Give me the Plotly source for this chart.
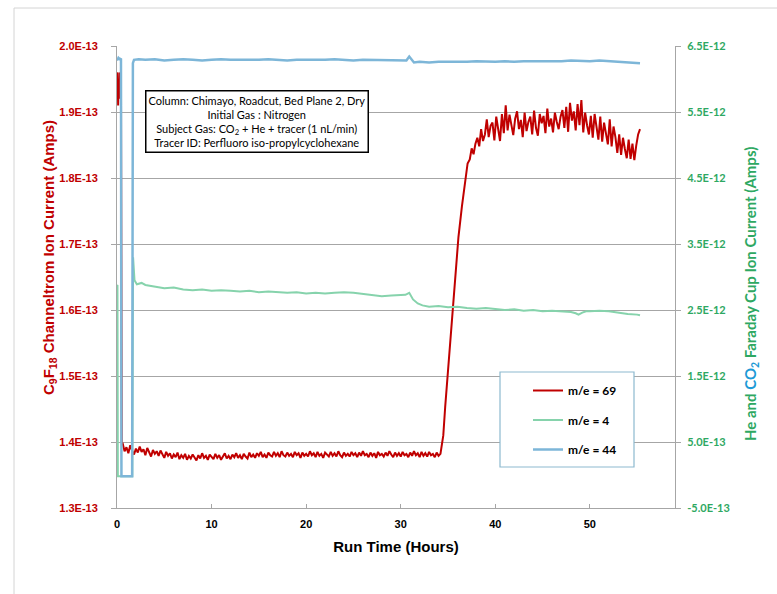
import plotly.graph_objects as go

# ---------------- DATA ----------------
S13 = 1e-13   # left-axis values are given in units of 1E-13 A
S12 = 1e-12   # right-axis values are given in units of 1E-12 A

x_tick_vals = [0, 10, 20, 30, 40, 50]
x_tick_text = ["0", "10", "20", "30", "40", "50"]

left_tick_vals = [1.3e-13, 1.4e-13, 1.5e-13, 1.6e-13, 1.7e-13, 1.8e-13, 1.9e-13, 2.0e-13]
left_tick_text = ["1.3E-13", "1.4E-13", "1.5E-13", "1.6E-13", "1.7E-13", "1.8E-13", "1.9E-13", "2.0E-13"]

right_tick_vals = [-0.5e-12, 0.5e-12, 1.5e-12, 2.5e-12, 3.5e-12, 4.5e-12, 5.5e-12, 6.5e-12]
right_tick_text = ["-5.0E-13", "5.0E-13", "1.5E-12", "2.5E-12", "3.5E-12", "4.5E-12", "5.5E-12", "6.5E-12"]

# m/e = 69 (C9F18 tracer, left axis) -- start spike
red_start_x = [0.0, 0.06, 0.12, 0.18, 0.24, 0.30, 0.36, 0.42, 0.5]
red_start_y = [1.93, 1.96, 1.91, 1.95, 1.92, 1.96, 1.93, 1.95, 1.40]
# baseline section, sampled every 0.2 h starting at 0.6 h
red_flat_t0 = 0.6
red_flat_dt = 0.2
red_flat_y = [1.398, 1.386, 1.392, 1.383, 1.395, 1.387, 1.381, 1.390, 1.384, 1.393,
              1.385, 1.389, 1.380, 1.391, 1.384, 1.378, 1.388, 1.382, 1.386, 1.379,
              1.387, 1.381, 1.376, 1.385, 1.379, 1.383, 1.375, 1.381, 1.377, 1.384,
              1.374, 1.380, 1.376, 1.382, 1.373, 1.379, 1.375, 1.381, 1.377, 1.372,
              1.380, 1.375, 1.383, 1.376, 1.379, 1.373, 1.381, 1.377, 1.374, 1.382,
              1.376, 1.380, 1.373, 1.378, 1.383, 1.375, 1.379, 1.374, 1.381, 1.377,
              1.383, 1.376, 1.380, 1.374, 1.382, 1.378, 1.375, 1.384, 1.377, 1.381,
              1.376, 1.383, 1.379, 1.385, 1.377, 1.381, 1.376, 1.384, 1.380, 1.378,
              1.385, 1.379, 1.383, 1.377, 1.386, 1.380, 1.378, 1.384, 1.379, 1.382,
              1.377, 1.385, 1.380, 1.383, 1.376, 1.384, 1.379, 1.382, 1.378, 1.386,
              1.380, 1.383, 1.377, 1.385, 1.379, 1.382, 1.376, 1.384, 1.381, 1.378,
              1.385, 1.379, 1.383, 1.378, 1.386, 1.380, 1.377, 1.384, 1.379, 1.382,
              1.378, 1.385, 1.380, 1.383, 1.377, 1.384, 1.379, 1.386, 1.380, 1.382,
              1.377, 1.384, 1.379, 1.383, 1.376, 1.385, 1.380, 1.382, 1.378, 1.384,
              1.379, 1.386, 1.381, 1.377, 1.384, 1.379, 1.383, 1.378, 1.385, 1.380,
              1.382, 1.377, 1.384, 1.379, 1.386, 1.380, 1.383, 1.377, 1.385, 1.379,
              1.383, 1.378, 1.385, 1.380, 1.382, 1.377, 1.384, 1.379, 1.382]
# breakthrough
red_rise_x = [34.5, 34.7, 35.0, 35.24, 35.5, 35.77, 36.1, 36.47, 36.83, 37.07]
red_rise_y = [1.41, 1.453, 1.51, 1.555, 1.605, 1.656, 1.71, 1.757, 1.797, 1.822]
# plateau, sampled every 0.2 h starting at 37.3 h
red_plat_t0 = 37.3
red_plat_dt = 0.2
red_plat_y = [1.828, 1.845, 1.836, 1.852, 1.861, 1.848, 1.874, 1.856, 1.866, 1.889,
              1.862, 1.879, 1.884, 1.857, 1.893, 1.870, 1.856, 1.897, 1.868, 1.910,
              1.872, 1.896, 1.880, 1.865, 1.890, 1.901, 1.874, 1.888, 1.862, 1.899,
              1.871, 1.885, 1.893, 1.866, 1.902, 1.876, 1.864, 1.897, 1.883, 1.894,
              1.868, 1.905, 1.878, 1.890, 1.869, 1.899, 1.885, 1.874, 1.893, 1.903,
              1.876, 1.908, 1.870, 1.914, 1.887, 1.901, 1.872, 1.912, 1.880, 1.918,
              1.869, 1.899, 1.880, 1.866, 1.894, 1.861, 1.897, 1.875, 1.858, 1.893,
              1.855, 1.884, 1.870, 1.851, 1.889, 1.848, 1.878, 1.862, 1.838, 1.866,
              1.835, 1.861, 1.844, 1.830, 1.858, 1.829, 1.852, 1.827, 1.849, 1.866,
              1.874]

# m/e = 4 (He, right axis)
green_x = [0, 0.05, 0.09, 1.0, 1.62, 1.7, 1.85, 2.1, 2.6, 3, 3.5, 4,
           5, 6, 7, 8, 9, 10, 11, 12, 13, 14, 15, 16, 17, 18, 19, 20, 21, 22, 23, 24, 25, 26, 27, 28, 29, 30,
           30.5, 30.9, 31.3, 31.8, 32.3, 33,
           34, 35, 36, 37, 38, 39, 40, 41, 42, 43, 44, 45, 46, 47, 48,
           48.5, 48.8, 49.2, 49.6,
           50, 51, 52,
           52.5, 53, 54, 55, 55.3]
green_y = [2.87, 2.88, -0.02, -0.02, -0.02, 3.30, 2.95, 2.89, 2.91, 2.88, 2.87, 2.85,
           2.83, 2.84, 2.81, 2.80, 2.81, 2.79, 2.80, 2.79, 2.78, 2.79, 2.77, 2.78, 2.77, 2.76, 2.77, 2.75,
           2.76, 2.75, 2.76, 2.77, 2.76, 2.74, 2.72, 2.71, 2.72, 2.72,
           2.73, 2.76, 2.66, 2.60, 2.57, 2.55,
           2.56, 2.54, 2.55, 2.53, 2.52, 2.53, 2.51, 2.50, 2.51, 2.49, 2.50, 2.48, 2.49, 2.48, 2.47,
           2.45, 2.43, 2.46, 2.48,
           2.48, 2.49, 2.48,
           2.47, 2.45, 2.44, 2.43, 2.42]

# m/e = 44 (CO2, right axis)
blue_x = [0, 0.15, 0.3, 0.42, 0.47, 1.0, 1.6, 1.68, 1.8, 2.3,
          3, 4, 5, 6, 7, 8, 9, 10, 11, 12, 13, 14, 15, 16, 17, 18, 19, 20, 21, 22, 23, 24, 25, 26, 27, 28, 29, 30,
          30.6, 30.9, 31.1, 31.4,
          32, 33, 34, 35, 36, 37, 38, 39, 40, 41, 42, 43, 44, 45, 46, 47, 48, 49, 50, 51, 52, 53, 54, 55,
          55.3]
blue_y = [6.28, 6.32, 6.30, 6.31, -0.02, -0.02, -0.02, 6.24, 6.29, 6.30,
          6.29, 6.30, 6.28, 6.29, 6.30, 6.29, 6.28, 6.29, 6.30, 6.29, 6.29, 6.28, 6.29, 6.30, 6.29, 6.28,
          6.29, 6.29, 6.28, 6.29, 6.30, 6.29, 6.28, 6.29, 6.29, 6.28, 6.29, 6.29,
          6.28, 6.34, 6.30, 6.25,
          6.26, 6.25, 6.26, 6.26, 6.25, 6.26, 6.27, 6.26, 6.26, 6.27, 6.26, 6.27, 6.27, 6.26, 6.27, 6.27,
          6.28, 6.27, 6.27, 6.28, 6.27, 6.27, 6.26, 6.25,
          6.24]

series_names = ["m/e = 69", "m/e = 4", "m/e = 44"]

left_title = "C<sub>9</sub>F<sub>18</sub> Channeltrom Ion Current (Amps)"
right_title_a = "He and "
right_title_b = "CO<sub>2</sub>"
right_title_c = " Faraday Cup Ion Current (Amps)"
x_title = "Run Time (Hours)"

info_lines = ["Column: Chimayo, Roadcut, Bed Plane 2, Dry",
              "Initial Gas : Nitrogen",
              "Subject Gas: CO<sub>2</sub> + He + tracer (1 nL/min)",
              "Tracer ID: Perfluoro iso-propylcyclohexane"]

# ---------------- BUILD ----------------
red_x = (red_start_x
         + [round(red_flat_t0 + red_flat_dt * i, 3) for i in range(len(red_flat_y))]
         + red_rise_x
         + [round(red_plat_t0 + red_plat_dt * i, 3) for i in range(len(red_plat_y))])
red_y = [v * S13 for v in (red_start_y + red_flat_y + red_rise_y + red_plat_y)]

RED = "#C00000"
GREEN = "#86D3AC"
BLUE = "#7DB6D8"
GREEN_TXT = "#2EA862"
BLUE_TXT = "#1E9AD6"
AX = "#A6A6A6"
GRID = "#A6A6A6"

fig = go.Figure()
fig.add_trace(go.Scatter(x=green_x, y=[v * S12 for v in green_y], yaxis="y2", mode="lines",
                         name=series_names[1], line=dict(color=GREEN, width=2),
                         legendgroup="g", legendrank=2))
fig.add_trace(go.Scatter(x=blue_x, y=[v * S12 for v in blue_y], yaxis="y2", mode="lines",
                         name=series_names[2], line=dict(color=BLUE, width=2.5),
                         legendgroup="b", legendrank=3))
fig.add_trace(go.Scatter(x=red_x, y=red_y, yaxis="y", mode="lines",
                         name=series_names[0], line=dict(color=RED, width=2),
                         legendgroup="r", legendrank=1))

L, R, T, B = 117, 102, 46, 86
W, H = 777, 594
PW, PH = W - L - R, H - T - B


def px_x(p):
    return (p - L) / PW


def px_y(p):
    return (H - B - p) / PH


fig.update_layout(
    width=W, height=H,
    margin=dict(l=L, r=R, t=T, b=B),
    paper_bgcolor="white", plot_bgcolor="white",
    showlegend=True,
    xaxis=dict(range=[0, 59], tickvals=x_tick_vals, ticktext=x_tick_text,
               ticks="inside", ticklen=4, tickcolor=AX, showline=True, linecolor=AX, linewidth=1,
               showgrid=False, zeroline=False, ticklabelstandoff=6,
               tickfont=dict(family="Liberation Sans", size=11, color="black", weight="bold"),
               title=dict(text=x_title, standoff=12,
                          font=dict(family="Liberation Sans", size=15, color="black", weight="bold"))),
    yaxis=dict(range=[1.3e-13, 2.0e-13], tickvals=left_tick_vals, ticktext=left_tick_text,
               ticks="outside", ticklen=5, tickcolor=AX, showline=True, linecolor=AX, linewidth=1,
               showgrid=True, gridcolor=GRID, gridwidth=1, zeroline=False, ticklabelstandoff=11,
               tickfont=dict(family="Liberation Sans", size=11, color=RED, weight="bold")),
    yaxis2=dict(range=[-0.5e-12, 6.5e-12], tickvals=right_tick_vals, ticktext=right_tick_text,
                overlaying="y", side="right",
                ticks="outside", ticklen=5, tickcolor=AX, showline=True, linecolor=AX, linewidth=1,
                showgrid=False, zeroline=False, ticklabelstandoff=4,
                tickfont=dict(family="Lato", size=11, color=GREEN_TXT, weight="bold")),
    legend=dict(x=px_x(528), y=px_y(376), xanchor="left", yanchor="top",
                bgcolor="rgba(0,0,0,0)", borderwidth=0, tracegroupgap=10.5, itemwidth=30,
                font=dict(family="Lato", size=12, color="black", weight="bold")),
    shapes=[
        dict(type="rect", xref="paper", yref="paper", layer="below",
             x0=px_x(14), x1=px_x(800), y0=px_y(620), y1=px_y(8),
             line=dict(color="#D4D4D4", width=1), fillcolor="rgba(0,0,0,0)"),
        dict(type="rect", xref="paper", yref="paper", layer="above",
             x0=px_x(500), x1=px_x(634), y0=px_y(467), y1=px_y(372),
             line=dict(color="#8DB9CF", width=1.2), fillcolor="white"),
    ],
    annotations=[
        # left axis title
        dict(xref="paper", yref="paper", x=px_x(49), y=px_y(258), textangle=-90,
             xanchor="center", yanchor="middle", showarrow=False,
             text=left_title,
             font=dict(family="Liberation Sans", size=15, color=RED, weight="bold")),
        # right axis title
        dict(xref="paper", yref="paper", x=px_x(751), y=px_y(294), textangle=-90,
             xanchor="center", yanchor="middle", showarrow=False,
             text=right_title_a + "<span style='color:%s'>%s</span>" % (BLUE_TXT, right_title_b) + right_title_c,
             font=dict(family="Lato", size=15, color=GREEN_TXT, weight="bold")),
        # info box
        dict(xref="paper", yref="paper", x=px_x(256.5), y=px_y(121.5),
             xanchor="center", yanchor="middle", showarrow=False, align="center",
             text="<br>".join(info_lines),
             font=dict(family="Lato", size=11, color="black"),
             bgcolor="white", bordercolor="black", borderwidth=1.5, borderpad=2),
    ],
)

fig.write_html("out.html")
